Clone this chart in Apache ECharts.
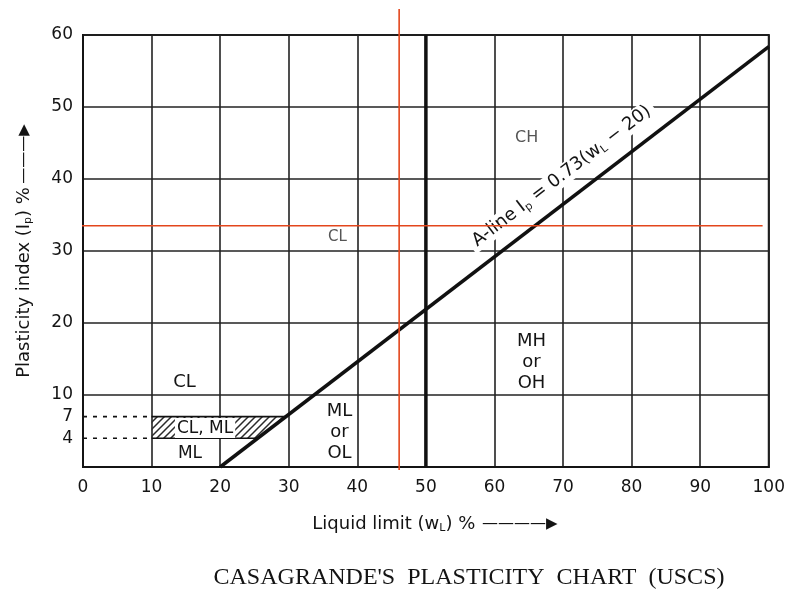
<!DOCTYPE html>
<html>
<head>
<meta charset="utf-8">
<script src="https://cdn.jsdelivr.net/npm/echarts@6/dist/echarts.min.js"></script>
<style>
  html, body { margin: 0; padding: 0; background: #fff; }
  #chart { width: 788px; height: 590px; }
</style>
</head>
<body>
<div id="chart"></div>
<script>
// Tick labels
const xTicks = [0, 10, 20, 30, 40, 50, 60, 70, 80, 90, 100];
const yTicks = [4, 7, 10, 20, 30, 40, 50, 60];

// A-line: Ip = 0.73 (wL - 20), drawn between its end points
const aLineX = [20, 100];
const aLineY = [0, 58.4];

// Liquid limit = 50 divider
const llDivX = [50, 50];
const llDivY = [0, 60];

// Partial lines bounding the CL-ML band
const band7X = [10, 29.6];
const band7Y = [7, 7];
const band4X = [10, 25.5];
const band4Y = [4, 4];
const dash7X = [0, 10];
const dash7Y = [7, 7];
const dash4X = [0, 10];
const dash4Y = [4, 4];

// Hatched CL-ML zone (polygon vertices)
const hatchX = [10, 25.5, 29.6, 10];
const hatchY = [4, 4, 7, 7];

// Soil group labels
const zoneNames = ['CH', 'CL', 'CL', 'MH\nor\nOH', 'ML\nor\nOL', 'CL, ML', 'ML'];
const zoneX = [64.7, 37.1, 14.8, 65.4, 37.4, 17.8, 15.6];
const zoneY = [45.7, 31.9, 11.8, 14.6, 4.8, 5.4, 1.9];
const zoneSize = [16, 15, 18, 18, 18, 17, 17];
const zoneColor = ['#555', '#555', '#141414', '#141414', '#141414', '#141414', '#141414'];

// A-line equation label anchor
const aLabelX = [69.8];
const aLabelY = [40.4];

// Red guide lines
const guideVX = [46.1, 46.1];
const guideVY = [-0.4, 63.6];
const guideHX = [-3.8, 99.1];
const guideHY = [33.5, 33.5];

const zip = (xs, ys) => xs.map((x, i) => [x, ys[i]]);

const FONT = "'DejaVu Sans', Verdana, sans-serif";
const INK = '#141414';

// Diagonal hatch pattern
function makeHatch() {
  const c = document.createElement('canvas');
  const s = 7;
  c.width = s; c.height = s;
  const g = c.getContext('2d');
  g.strokeStyle = '#2a2a2a';
  g.lineWidth = 1.5;
  g.beginPath();
  g.moveTo(0, s); g.lineTo(s, 0);
  g.moveTo(-1, 1); g.lineTo(1, -1);
  g.moveTo(s - 1, s + 1); g.lineTo(s + 1, s - 1);
  g.stroke();
  return c;
}
const hatchImg = makeHatch();

const chart = echarts.init(document.getElementById('chart'), null, { renderer: 'canvas' });

function segment(name, xs, ys, width, type) {
  return {
    name: name, type: 'line', data: zip(xs, ys), symbol: 'none', silent: true,
    lineStyle: { color: '#111', width: width, type: type || 'solid' }, z: 3
  };
}

const subRich = {
  t: { fontFamily: FONT, fontSize: 18, color: INK },
  s: { fontFamily: FONT, fontSize: 11, color: INK, verticalAlign: 'bottom', padding: [9, 0, 0, 0] },
  a: { fontFamily: FONT, fontSize: 16, color: INK },
  h: { fontFamily: FONT, fontSize: 15, color: INK }
};

let aLineAngle = 37.4 * Math.PI / 180;

const option = {
  backgroundColor: '#fff',
  animation: false,
  title: {
    text: "CASAGRANDE'S  PLASTICITY  CHART  (USCS)",
    left: 464, top: 561, textAlign: 'center',
    textStyle: { fontFamily: "'Liberation Serif', 'Times New Roman', serif", fontSize: 24, fontWeight: 'normal', color: INK }
  },
  grid: {
    left: 83, top: 35, width: 688, height: 432,
    show: true, borderColor: '#141414', borderWidth: 2, backgroundColor: '#fff'
  },
  xAxis: {
    type: 'value', min: 0, max: 100, interval: 10,
    axisLine: { show: true, lineStyle: { color: '#141414', width: 2 } },
    axisTick: { show: false },
    splitLine: { show: true, lineStyle: { color: '#222', width: 1.6 } },
    axisLabel: { color: INK, fontFamily: FONT, fontSize: 17, margin: 12, customValues: xTicks },
    name: '{t|Liquid limit (w}{s|L}{t|) %}  {a|————}{h|▶}',
    nameLocation: 'middle', nameGap: 47,
    nameTextStyle: { padding: [0, 0, 0, 18], rich: subRich }
  },
  yAxis: {
    type: 'value', min: 0, max: 60, interval: 10,
    axisLine: { show: true, lineStyle: { color: '#141414', width: 2 } },
    axisTick: { show: false },
    splitLine: { show: true, lineStyle: { color: '#222', width: 1.6 } },
    axisLabel: { color: INK, fontFamily: FONT, fontSize: 17, margin: 10, customValues: yTicks },
    name: '{t|Plasticity index (I}{s|p}{t|) %} {a|———}{h|▶}',
    nameLocation: 'middle', nameGap: 49, nameRotate: 90,
    nameTextStyle: { rich: subRich }
  },
  series: [
    {
      name: 'CL-ML zone', type: 'custom', silent: true, z: 2,
      data: [[0]],
      renderItem: function (params, api) {
        const pts = hatchX.map((x, i) => api.coord([x, hatchY[i]]));
        return {
          type: 'polygon',
          shape: { points: pts },
          style: { fill: { image: hatchImg, repeat: 'repeat' }, stroke: null }
        };
      }
    },
    segment('A-line', aLineX, aLineY, 3.5),
    segment('LL 50', llDivX, llDivY, 3.5),
    segment('Ip 7', band7X, band7Y, 1.6),
    segment('Ip 4', band4X, band4Y, 1.6),
    segment('Ip 7 lead', dash7X, dash7Y, 1.6, [4, 6]),
    segment('Ip 4 lead', dash4X, dash4Y, 1.6, [4, 6]),
    {
      name: 'zones', type: 'custom', silent: true, z: 5,
      data: zoneNames.map((n, i) => [zoneX[i], zoneY[i], i]),
      renderItem: function (params, api) {
        const i = api.value(2);
        const p = api.coord([api.value(0), api.value(1)]);
        return {
          type: 'text', x: p[0], y: p[1],
          style: {
            text: zoneNames[i], align: 'center', verticalAlign: 'middle',
            fontFamily: FONT, fontSize: zoneSize[i], lineHeight: zoneSize[i] + 3,
            fill: zoneColor[i],
            backgroundColor: i === 5 ? '#fff' : null,
            padding: i === 5 ? [0, 2] : 0
          }
        };
      }
    },
    {
      // Sits under the A-line so its white backing only breaks the grid lines
      name: 'A-line label', type: 'custom', silent: true, z: 2.5,
      data: zip(aLabelX, aLabelY),
      renderItem: function (params, api) {
        const p = api.coord([api.value(0), api.value(1)]);
        return {
          type: 'text', x: p[0], y: p[1], rotation: aLineAngle,
          style: {
            text: '{t|A-line I}{s|p}{t| = 0.73(w}{s|L}{t| − 20)}',
            align: 'center', verticalAlign: 'middle',
            backgroundColor: '#fff', padding: [0, 5],
            rich: {
              t: { fontFamily: FONT, fontSize: 18, fill: INK },
              s: { fontFamily: FONT, fontSize: 11, fill: INK, verticalAlign: 'bottom', padding: [9, 0, 0, 0] }
            }
          }
        };
      }
    },
    {
      name: 'guide v', type: 'line', data: zip(guideVX, guideVY), symbol: 'none', clip: false, silent: true, z: 8,
      lineStyle: { color: '#e3461c', width: 1.6 }
    },
    {
      name: 'guide h', type: 'line', data: zip(guideHX, guideHY), symbol: 'none', clip: false, silent: true, z: 8,
      lineStyle: { color: '#e3461c', width: 1.6 }
    }
  ]
};

chart.setOption(option);

// Align the equation text with the A-line's on-screen slope
const p0 = chart.convertToPixel({ gridIndex: 0 }, [aLineX[0], aLineY[0]]);
const p1 = chart.convertToPixel({ gridIndex: 0 }, [aLineX[1], aLineY[1]]);
aLineAngle = Math.atan2(p0[1] - p1[1], p1[0] - p0[0]);
chart.setOption({ series: option.series }, { replaceMerge: ['series'] });
</script>
</body>
</html>
